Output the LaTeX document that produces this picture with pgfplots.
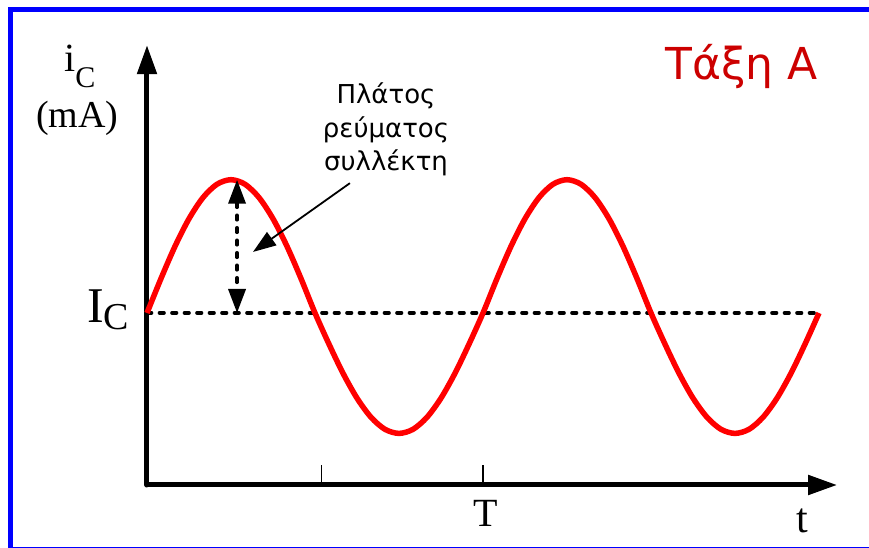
\documentclass[border=0pt]{standalone}
\usepackage{pgfplots}
\pgfplotsset{compat=1.18}
\usepackage{fontspec}
\setmainfont{Liberation Serif}
\newfontfamily\sansgr{DejaVu Sans}
\usetikzlibrary{arrows.meta}
\definecolor{titlered}{RGB}{204,0,0}
\definecolor{curvered}{RGB}{255,0,0}
\begin{document}
\begin{tikzpicture}[x=1pt,y=1pt]
\begin{axis}[
  at={(0,0)}, anchor=south west,
  scale only axis,
  x=336pt, y=43pt,
  xmin=0, xmax=2.054, ymin=0, ymax=10.23,
  axis lines=left,
  axis line style={line width=5pt, line cap=round, -{Triangle[width=19pt,length=29pt]}},
  clip=false,
  ytick=\empty,
  xtick={0.52,1}, xticklabels={},
  tick align=inside,
  major tick length=20pt,
  tick style={black, line width=1.5pt},
]
% I_C level (dashed)
\addplot[black, line width=3.6pt, line cap=round, dash pattern=on 4.5pt off 8pt] coordinates {(0,4) (2,4)};
% collector current i_C(t)
\addplot[curvered, line width=5.5pt, smooth] coordinates {
(0.0000,4.000) (0.0417,4.802) (0.0833,5.550) (0.1250,6.192) (0.1667,6.685) (0.2083,6.994)
(0.2500,7.100) (0.2917,6.994) (0.3333,6.685) (0.3750,6.192) (0.4167,5.550) (0.4583,4.802)
(0.5000,4.000) (0.5417,3.275) (0.5833,2.600) (0.6250,2.020) (0.6667,1.575) (0.7083,1.295)
(0.7500,1.200) (0.7917,1.295) (0.8333,1.575) (0.8750,2.020) (0.9167,2.600) (0.9583,3.275)
(1.0000,4.000) (1.0417,4.802) (1.0833,5.550) (1.1250,6.192) (1.1667,6.685) (1.2083,6.994)
(1.2500,7.100) (1.2917,6.994) (1.3333,6.685) (1.3750,6.192) (1.4167,5.550) (1.4583,4.802)
(1.5000,4.000) (1.5417,3.275) (1.5833,2.600) (1.6250,2.020) (1.6667,1.575) (1.7083,1.295)
(1.7500,1.200) (1.7917,1.295) (1.8333,1.575) (1.8750,2.020) (1.9167,2.600) (1.9583,3.275)
(2.0000,4.000)
};
% amplitude double arrow
\addplot[black, line width=3.6pt, line cap=round, dash pattern=on 4.5pt off 8pt,
  {Triangle[width=17pt,length=24pt]}-{Triangle[width=17pt,length=24pt]}]
  coordinates {(0.268,7.1) (0.268,4)};
% pointer arrow
\draw[black, line width=1.8pt, -{Triangle[width=16pt,length=23pt]}]
  (axis cs:0.604,7.02) -- (axis cs:0.3155,5.42);
\end{axis}
% labels
\node[anchor=base west, inner sep=0] at (-83,413)
  {\fontsize{40}{40}\selectfont i\raisebox{-16pt}{\fontsize{30}{30}\selectfont C}};
\node[anchor=base, inner sep=0] at (-69.5,357) {\fontsize{38}{38}\selectfont (mA)};
\node[anchor=base west, inner sep=0] at (-60,162)
  {\fontsize{50}{50}\selectfont I\raisebox{-7pt}{\fontsize{38}{38}\selectfont C}};
\node[anchor=base, inner sep=0] at (339,-42) {\fontsize{40}{40}\selectfont T};
\node[anchor=base, inner sep=0] at (655,-48) {\fontsize{42}{42}\selectfont t};
\node[anchor=base, inner sep=0, text=titlered] at (594.5,405)
  {\sansgr\fontsize{44}{44}\selectfont Τάξη Α};
\node[anchor=base, inner sep=0] at (239,381) {\sansgr\fontsize{26}{26}\selectfont Πλάτος};
\node[anchor=base, inner sep=0] at (239,347) {\sansgr\fontsize{26}{26}\selectfont ρεύματος};
\node[anchor=base, inner sep=0] at (239,314) {\sansgr\fontsize{26}{26}\selectfont συλλέκτη};
% frame
\draw[blue, line width=5pt] (-136.5,-64.5) rectangle (733,475);
\pgfresetboundingbox
\useasboundingbox (-147,-63) rectangle (722,485);
\end{tikzpicture}
\end{document}
